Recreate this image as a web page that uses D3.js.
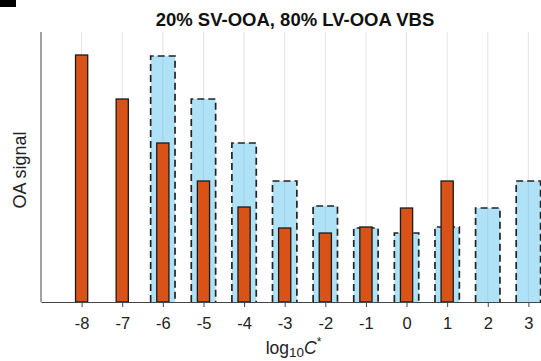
<!DOCTYPE html>
<html>
<head>
<meta charset="utf-8">
<script src="https://cdn.jsdelivr.net/npm/d3@7"></script>
<style>
  body { margin: 0; background: #fff; }
  svg { display: block; overflow: hidden; }
  text { font-family: "Liberation Sans", Arial, sans-serif; }
</style>
</head>
<body>
<svg id="chart"></svg>
<script>
// volatility bins (log10 C*)
const bins = [-8, -7, -6, -5, -4, -3, -2, -1, 0, 1, 2, 3];
// orange (narrow) bars, arbitrary OA signal units
const orangeBins = [-8, -7, -6, -5, -4, -3, -2, -1, 0, 1];
const orangeVals = [24.7, 20.3, 15.9, 12.1, 9.5, 7.4, 6.9, 7.5, 9.4, 12.1];
// light blue dashed (wide) bars
const blueBins = [-6, -5, -4, -3, -2, -1, 0, 1, 2, 3];
const blueVals = [24.6, 20.3, 15.9, 12.1, 9.6, 7.4, 6.9, 7.5, 9.4, 12.1];

const width = 541, height = 361;
const svg = d3.select('#chart').attr('width', width).attr('height', height);

const x = d3.scaleLinear().domain([-9, 4]).range([41, 569]);
const y = d3.scaleLinear().domain([0, 27]).range([302, 32]);

// panel label remnant
svg.append('rect').attr('x', 0).attr('y', 0).attr('width', 16).attr('height', 7).attr('fill', '#000');

// grid
svg.append('g')
  .selectAll('line')
  .data(bins)
  .join('line')
    .attr('x1', d => x(d)).attr('x2', d => x(d))
    .attr('y1', y.range()[1]).attr('y2', y(0))
    .attr('stroke', '#e3e3e3')
    .attr('stroke-width', 1);

// blue bars
svg.append('g')
  .selectAll('path')
  .data(blueBins.map((b, i) => ({ b, v: blueVals[i] })))
  .join('path')
    .attr('d', d => {
      const x0 = x(d.b - 0.3), x1 = x(d.b + 0.3), y0 = y(0), y1 = y(d.v);
      return `M${x0},${y0}V${y1}H${x1}V${y0}`;
    })
    .attr('fill', '#4dbeee')
    .attr('fill-opacity', 0.45)
    .attr('stroke', '#222')
    .attr('stroke-width', 1.7)
    .attr('stroke-dasharray', '7,4');

// orange bars
svg.append('g')
  .selectAll('rect')
  .data(orangeBins.map((b, i) => ({ b, v: orangeVals[i] })))
  .join('rect')
    .attr('x', d => x(d.b - 0.15))
    .attr('width', x(0.3) - x(0))
    .attr('y', d => y(d.v))
    .attr('height', d => y(0) - y(d.v))
    .attr('fill', '#d95319')
    .attr('stroke', '#1a1a1a')
    .attr('stroke-width', 1.3);

// x axis
const xAxis = svg.append('g')
  .attr('transform', `translate(0,${y(0)})`)
  .call(d3.axisBottom(x).tickValues(bins).tickFormat(d => String(d)).tickSize(5).tickSizeOuter(0));
xAxis.select('.domain').attr('stroke', '#444');
xAxis.selectAll('.tick line').attr('stroke', '#444');
xAxis.selectAll('.tick text')
  .attr('font-size', 16.5).attr('fill', '#222').attr('dy', 19.3)
  .style('font-family', '"Liberation Sans", Arial, sans-serif');

// y axis line (no ticks)
svg.append('line')
  .attr('x1', x(-9)).attr('x2', x(-9))
  .attr('y1', y.range()[1]).attr('y2', y(0))
  .attr('stroke', '#444').attr('stroke-width', 1);

// title
svg.append('text')
  .attr('x', 295).attr('y', 26)
  .attr('text-anchor', 'middle')
  .attr('font-size', 18.5).attr('font-weight', 'bold').attr('fill', '#111')
  .text('20% SV-OOA, 80% LV-OOA VBS');

// y label
svg.append('text')
  .attr('transform', 'translate(25.5,170) rotate(-90)')
  .attr('text-anchor', 'middle')
  .attr('font-size', 18).attr('fill', '#222')
  .text('OA signal');

// x label: log10 C*
const xl = svg.append('text')
  .attr('x', 293.5).attr('y', 353.5)
  .attr('text-anchor', 'middle')
  .attr('font-size', 17.5).attr('fill', '#222');
xl.append('tspan').text('log');
xl.append('tspan').attr('font-size', 13.5).attr('dy', 3.5).text('10');
xl.append('tspan').attr('font-style', 'italic').attr('dy', -3.5).text('C');
xl.append('tspan').attr('font-size', 12).attr('dy', -8).text('*');
</script>
</body>
</html>
